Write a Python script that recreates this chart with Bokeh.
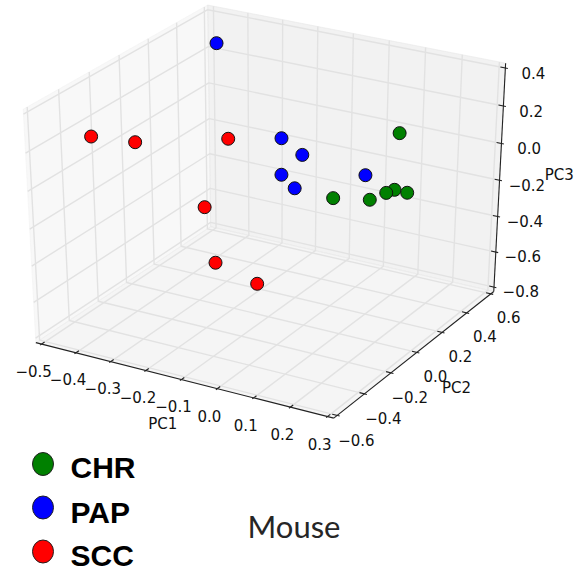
import numpy as np
from bokeh.plotting import figure
from bokeh.models import Range1d
from bokeh.core.properties import value
from bokeh.embed import file_html
from bokeh.resources import INLINE

# ---------------- data (PC1, PC2, PC3 per sample) ----------------
groups = ["CHR", "PAP", "SCC"]
group_colors = ["#008000", "#0000ff", "#ff0000"]

chr_pc1 = [0.169, 0.166, 0.220, 0.221, 0.222, 0.256]
chr_pc2 = [0.24, -0.24, -0.12, 0.00, 0.06, 0.06]
chr_pc3 = [0.176, 0.067, 0.022, -0.001, -0.014, -0.015]

pap_pc1 = [-0.386, -0.110, -0.052, -0.087, -0.050, 0.079]
pap_pc2 = [0.36, 0.12, 0.12, 0.06, 0.06, 0.24]
pap_pc3 = [0.381, 0.092, 0.027, -0.065, -0.122, -0.085]

scc_pc1 = [-0.395, -0.350, -0.212, -0.184, -0.276, -0.179]
scc_pc2 = [-0.48, -0.30, 0.00, -0.24, 0.06, 0.12]
scc_pc3 = [0.267, 0.171, 0.104, -0.132, -0.633, -0.740]

x_ticks = [-0.5, -0.4, -0.3, -0.2, -0.1, 0.0, 0.1, 0.2, 0.3]
y_ticks = [-0.6, -0.4, -0.2, 0.0, 0.2, 0.4, 0.6]
z_ticks = [-0.8, -0.6, -0.4, -0.2, 0.0, 0.2, 0.4]
xlim = (-0.5, 0.3)
ylim = (-0.6, 0.6)
zlim = (-0.8, 0.4)
axis_titles = ["PC1", "PC2", "PC3"]
title_text = "Mouse"

# ---------------- 3D projection (matplotlib-style, elev 30, azim -60) ----------------
ELEV, AZIM, DIST = 30.0, -60.0, 10.0


def proj_matrix():
    relev, razim = np.radians(ELEV), np.radians(AZIM)
    R = np.array([0.5, 0.5, 0.5])
    E = R + DIST * np.array([np.cos(razim) * np.cos(relev),
                             np.sin(razim) * np.cos(relev),
                             np.sin(relev)])
    V = np.array([0.0, 0.0, 1.0])
    n = (E - R) / np.linalg.norm(E - R)
    u = np.cross(V, n)
    u = u / np.linalg.norm(u)
    v = np.cross(n, u)
    Mr = np.eye(4)
    Mr[0, :3], Mr[1, :3], Mr[2, :3] = u, v, n
    Mt = np.eye(4)
    Mt[:3, 3] = -E
    zf, zb = -DIST, DIST
    a = (zf + zb) / (zf - zb)
    b = -2 * (zf * zb) / (zf - zb)
    P = np.array([[1, 0, 0, 0], [0, 1, 0, 0], [0, 0, a, b], [0, 0, -1, 0]], float)
    return P @ Mr @ Mt


M = proj_matrix()


def project(x, y, z):
    x = np.atleast_1d(np.asarray(x, float))
    y = np.atleast_1d(np.asarray(y, float))
    z = np.atleast_1d(np.asarray(z, float))
    X = (x - xlim[0]) / (xlim[1] - xlim[0])
    Y = (y - ylim[0]) / (ylim[1] - ylim[0])
    Z = (z - zlim[0]) / (zlim[1] - zlim[0])
    vec = M @ np.vstack([X, Y, Z, np.ones_like(X)])
    return vec[0] / vec[3], vec[1] / vec[3], vec[3]


# screen calibration (2D projected units -> pixels)
SX, OX, SY, OY = 3301.0, 268.0, 2557.0, 203.75
W, H = 585, 574


def from_px(px, py):
    return (px - OX) / SX, (OY - py) / SY


x0r, y0r = from_px(0, H)
x1r, y1r = from_px(W, 0)

p = figure(width=W, height=H, x_range=Range1d(x0r, x1r), y_range=Range1d(y0r, y1r),
           output_backend="svg", toolbar_location=None, min_border=0,
           x_axis_location=None, y_axis_location=None,
           background_fill_color="white", border_fill_color="white",
           outline_line_color=None)
p.grid.visible = False


def ext(lim):
    d = (lim[1] - lim[0]) / 48.0
    return lim[0] - d, lim[1] + d

xe, ye, ze = ext(xlim), ext(ylim), ext(zlim)
dx, dy, dz = [(l[1] - l[0]) / 12.0 for l in (xlim, ylim, zlim)]

# panes
panes = [
    ([xe[0]] * 4, [ye[0], ye[1], ye[1], ye[0]], [ze[0], ze[0], ze[1], ze[1]], (242, 242, 242)),
    ([xe[0], xe[1], xe[1], xe[0]], [ye[1]] * 4, [ze[0], ze[0], ze[1], ze[1]], (230, 230, 230)),
    ([xe[0], xe[1], xe[1], xe[0]], [ye[0], ye[0], ye[1], ye[1]], [ze[0]] * 4, (236, 236, 236)),
]
for xs, ys, zs, col in panes:
    px_, py_, _ = project(xs, ys, zs)
    p.patch(list(px_), list(py_), fill_color=col, fill_alpha=0.5,
            line_color=col, line_alpha=0.5, line_width=1)

# gridlines
gx, gy = [], []
for t in x_ticks:
    a, b, _ = project([t, t, t], [ye[0], ye[1], ye[1]], [ze[0], ze[0], ze[1]])
    gx.append(list(a)); gy.append(list(b))
for t in y_ticks:
    a, b, _ = project([xe[1], xe[0], xe[0]], [t, t, t], [ze[0], ze[0], ze[1]])
    gx.append(list(a)); gy.append(list(b))
for t in z_ticks:
    a, b, _ = project([xe[0], xe[0], xe[1]], [ye[0], ye[1], ye[1]], [t, t, t])
    gx.append(list(a)); gy.append(list(b))
p.multi_line(gx, gy, line_color="#e2e2e2", line_width=1.4)

# axis lines
ax_lines = [
    ([xe[0], xe[1]], [ye[0], ye[0]], [ze[0], ze[0]]),
    ([xe[1], xe[1]], [ye[0], ye[1]], [ze[0], ze[0]]),
    ([xe[1], xe[1]], [ye[1], ye[1]], [ze[0], ze[1]]),
]
for xs, ys, zs in ax_lines:
    a, b, _ = project(xs, ys, zs)
    p.line(list(a), list(b), line_color="#222222", line_width=1.1)

# ticks
tx, ty = [], []
for t in x_ticks:
    a, b, _ = project([t, t], [ye[0] - 0.1 * dy, ye[0] + 0.2 * dy], [ze[0], ze[0]])
    tx.append(list(a)); ty.append(list(b))
for t in y_ticks:
    a, b, _ = project([xe[1] + 0.1 * dx, xe[1] - 0.2 * dx], [t, t], [ze[0], ze[0]])
    tx.append(list(a)); ty.append(list(b))
for t in z_ticks:
    a, b, _ = project([xe[1] + 0.1 * dx, xe[1] - 0.2 * dx], [ye[1], ye[1]], [t, t])
    tx.append(list(a)); ty.append(list(b))
p.multi_line(tx, ty, line_color="#222222", line_width=1.1)

# tick labels
TF = 0.7
LAB_DX, LAB_DY = 2.0 / SX, 7.0 / SY


def fmt(v):
    s = "%.1f" % v
    if s.startswith("-"):
        s = "\u2212" + s[1:]
    if s == "\u22120.0":
        s = "0.0"
    return s

lx, ly, lt = [], [], []
a, b, _ = project(x_ticks, [ye[0] - TF * dy] * len(x_ticks), [ze[0] - TF * dz] * len(x_ticks))
lx += list(a + LAB_DX); ly += list(b - LAB_DY); lt += [fmt(t) for t in x_ticks]
a, b, _ = project([xe[1] + TF * dx] * len(y_ticks), y_ticks, [ze[0] - TF * dz] * len(y_ticks))
lx += list(a + LAB_DX); ly += list(b - LAB_DY); lt += [fmt(t) for t in y_ticks]
a, b, _ = project([xe[1] + TF * dx] * len(z_ticks), [ye[1] + TF * dy] * len(z_ticks), z_ticks)
lx += list(a + LAB_DX); ly += list(b - LAB_DY); lt += [fmt(t) for t in z_ticks]
p.text(lx, ly, text=lt, text_font=value("DejaVu Sans"), text_font_size="15px",
       text_align="center", text_baseline="middle", text_color="#111111")

# axis titles
LT = 0.125 * 12 - 0.25  # offset factor from the edge in delta units
cxm, cym, czm = np.mean(xlim), np.mean(ylim), np.mean(zlim)
a1, b1, _ = project([cxm], [ye[0] - LT * dy], [ze[0] - LT * dz])
a2, b2, _ = project([xe[1] + LT * dx], [cym], [ze[0] - LT * dz])
a3, b3, _ = project([xe[1] + LT * dx], [ye[1] + LT * dy], [czm])
title_nudge = [(-1.0, 8.5), (10.0, 6.0), (14.5, -1.0)]
tl_x = [a1[0], a2[0], a3[0]]
tl_y = [b1[0], b2[0], b3[0]]
tl_x = [xv + nx / SX for xv, (nx, ny) in zip(tl_x, title_nudge)]
tl_y = [yv - ny / SY for yv, (nx, ny) in zip(tl_y, title_nudge)]
p.text(tl_x, tl_y, text=axis_titles,
       text_font=value("DejaVu Sans"), text_font_size="15px",
       text_align="center", text_baseline="middle", text_color="#111111")

# scatter points (far to near)
allx = chr_pc1 + pap_pc1 + scc_pc1
ally = chr_pc2 + pap_pc2 + scc_pc2
allz = chr_pc3 + pap_pc3 + scc_pc3
allc = [group_colors[0]] * len(chr_pc1) + [group_colors[1]] * len(pap_pc1) + [group_colors[2]] * len(scc_pc1)
sx_, sy_, depth = project(allx, ally, allz)
order = np.argsort(-depth)
p.scatter([sx_[i] for i in order], [sy_[i] for i in order], size=13,
          fill_color=[allc[i] for i in order], line_color="#111111", line_width=1)

# legend (manual)
leg_px = 42.5
leg_py = [463.5, 507, 551]
leg_mid = [467, 512, 555]
for g, col, yy, ym in zip(groups, group_colors, leg_py, leg_mid):
    cx, cy = from_px(leg_px, yy)
    p.ellipse([cx], [cy], width=21, height=23, width_units="screen", height_units="screen",
              fill_color=col, line_color="#222222", line_width=1)
    tx_, ty_ = from_px(70, ym)
    p.text([tx_], [ty_], text=[g], text_font=value("Liberation Sans"), text_font_style="bold",
           text_font_size="30px", text_align="left", text_baseline="middle", text_color="black")

mx, my = from_px(247, 525)
p.text([mx], [my], text=[title_text], text_font=value("Lato"), text_font_size="31px",
       text_align="left", text_baseline="middle", text_color="#262626")

open("out.html", "w").write(file_html(p, INLINE))
